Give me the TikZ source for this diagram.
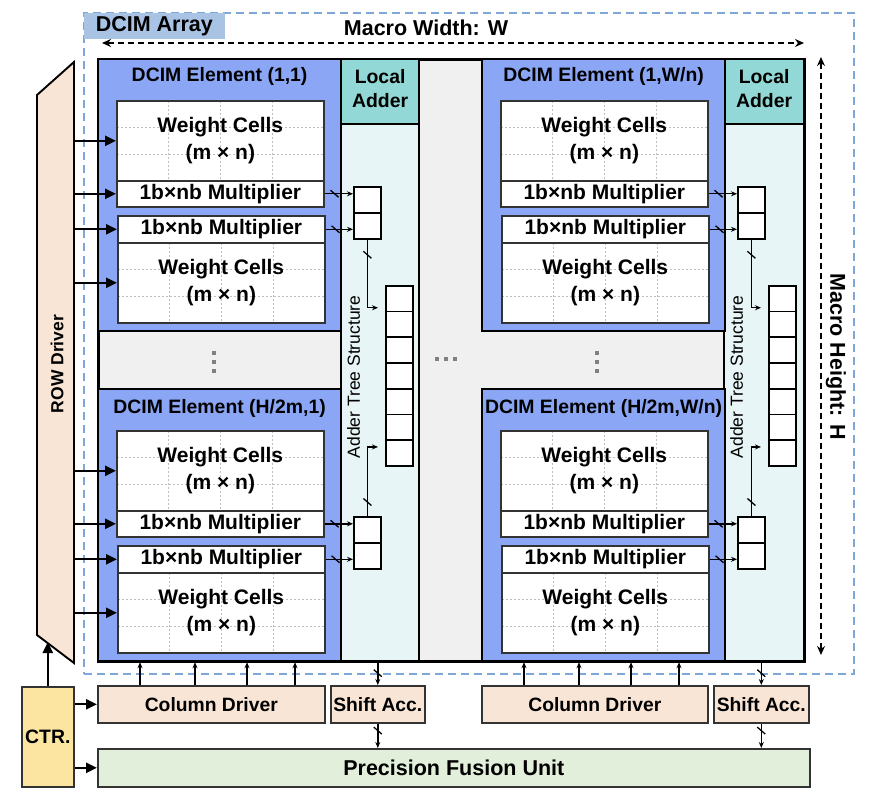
\documentclass[tikz,border=0pt]{standalone}
\usepackage{fontspec}
\setmainfont{Liberation Sans}
\usetikzlibrary{arrows.meta,calc,decorations.markings}

\definecolor{elemblue}{RGB}{138,166,245}
\definecolor{addhead}{RGB}{146,216,214}
\definecolor{addbody}{RGB}{232,245,246}
\definecolor{gapgray}{RGB}{240,240,240}
\definecolor{drvpeach}{RGB}{248,229,214}
\definecolor{pfugreen}{RGB}{226,239,218}
\definecolor{ctryellow}{RGB}{252,228,161}
\definecolor{arrblue}{RGB}{127,167,217}
\definecolor{arrlabel}{RGB}{169,195,228}

\tikzset{
  blk/.style={draw=black!80, line width=1.6pt, inner sep=0pt, anchor=north west},
  title/.style={font=\bfseries\fontsize{19.4}{24}\selectfont},
  big/.style={font=\bfseries\fontsize{21.5}{24}\selectfont},
  elem/.style={blk, draw=black, line width=2.2pt, fill=elemblue, minimum width=243, minimum height=272},
  gridline/.style={gray!50, line width=0.7pt, dash pattern=on 2.5pt off 1.5pt},
  wcell/.style={blk, fill=white, minimum width=207, minimum height=80, align=center,
    font=\bfseries\fontsize{21}{27}\selectfont,
    path picture={
      \foreach \k in {1,2,3}
        \draw[gridline] ($(path picture bounding box.north west)!\k/4!(path picture bounding box.north east)$)
          -- ($(path picture bounding box.south west)!\k/4!(path picture bounding box.south east)$);
      \foreach \k in {1,2}
        \draw[gridline] ($(path picture bounding box.north west)!\k/3!(path picture bounding box.south west)$)
          -- ($(path picture bounding box.north east)!\k/3!(path picture bounding box.south east)$);
    }},
  mult/.style={blk, fill=white, minimum width=207, minimum height=26, font=\bfseries\fontsize{21}{24}\selectfont},
  reg/.style={draw=black, line width=1.8pt, fill=white, inner sep=0pt, anchor=north west, minimum width=27, minimum height=26},
  adder/.style={blk, draw=black, line width=2.2pt},
  lbox/.style={blk, fill=drvpeach, minimum height=37, font=\bfseries\fontsize{19.3}{22}\selectfont},
  bigarrow/.style={line width=2.2pt, -{Triangle[length=11pt,width=10pt]}},
  smallarrow/.style={line width=1.4pt, -{Stealth[length=6pt,width=5pt]}},
  dimarrow/.style={line width=1.9pt, dash pattern=on 6pt off 4pt,
    {Stealth[length=9pt,width=8pt]}-{Stealth[length=9pt,width=8pt]}},
  bus/.style={postaction={decorate}, decoration={markings, mark=at position #1 with
    {\pgftransformresetnontranslations \draw[-, solid, line width=1.3pt] (-4pt,3.5pt) -- (4pt,-3.5pt);}}},
}

\begin{document}
\begin{tikzpicture}[x=1pt, y=-1pt]
\useasboundingbox (0,0) rectangle (870,802);

% DCIM array frame
\node[blk, draw=arrblue, line width=2pt, dash pattern=on 8pt off 5pt,
  minimum width=770, minimum height=661] (arr) at (83,12) {};
\node[blk, draw=none, fill=arrlabel, minimum width=141, minimum height=26, big] (arrlab) at (arr.north west) {DCIM Array};

% Macro size
\coordinate (mw-l) at (102,43);
\coordinate (mw-r) at (804,43);
\draw[dimarrow] (mw-l) -- (mw-r);
\node[big] (mwlab) at (426,28) {Macro Width: W};
\coordinate (mh-t) at (821,57);
\coordinate (mh-b) at (821,655);
\draw[dimarrow] (mh-t) -- (mh-b);
\node[big, rotate=-90] (mhlab) at (836,357) {Macro Height: H};

% Background of the macro
\node[blk, draw=black, line width=2.6pt, fill=gapgray, minimum width=706, minimum height=602] (bg) at (97,58) {};

% Local adders
\foreach \lx/\lw [count=\j] in {340/78, 723/80} {
  \node[adder, fill=addbody, minimum width=\lw, minimum height=602] (lb\j) at (\lx,58) {};
  \node[adder, fill=addhead, minimum width=\lw, minimum height=65] (lh\j) at (\lx,58) {};
  \node[align=center, title] (lt\j) at ([yshift=3]lh\j.center) {Local\\Adder};
  \node[rotate=90, font=\fontsize{17.5}{20}\selectfont] (at\j) at (\lx+13.5,377) {Adder Tree Structure};
  \foreach \k in {1,...,7}
    \node[reg, minimum height=25.7] (c\j-\k) at (\lx+45,{285+(\k-1)*25.7}) {};
  \coordinate (ta\j) at ($(c\j-1.west)+(-7,9)$);
  \coordinate (tb\j) at ($(c\j-7.west)+(-7,-6)$);
}

% DCIM elements
\foreach \ex/\ey [count=\i] in {97/58, 481/58, 97/388, 481/388} {
  \node[elem] (e\i) at (\ex,\ey) {};
  \node[wcell] (wa\i) at (\ex+19,\ey+42) {Weight Cells\\(m × n)};
  \node[mult] (ma\i) at (\ex+19,\ey+122) {1b×nb Multiplier};
  \node[mult, minimum height=27] (mb\i) at (\ex+20,\ey+157) {1b×nb Multiplier};
  \node[wcell] (wb\i) at (\ex+20,\ey+184) {Weight Cells\\(m × n)};
  \node[reg] (sa\i) at (\ex+256,\ey+128) {};
  \node[reg] (sb\i) at (\ex+256,\ey+154) {};
  \draw[smallarrow, bus=10pt] (ma\i.east) -- (ma\i.east -| sa\i.west);
  \draw[smallarrow, bus=10pt] (mb\i.east) -- (mb\i.east -| sb\i.west);
}
\node[title] (t1) at ([yshift=-18]e1.north) {DCIM Element (1,1)};
\node[title] (t2) at ([yshift=-18]e2.north) {DCIM Element (1,W/n)};
\node[title] (t3) at ([yshift=-20]e3.north) {DCIM Element (H/2m,1)};
\node[title] (t4) at ([yshift=-20]e4.north) {DCIM Element (H/2m,W/n)};

% Adder tree inputs
\draw[smallarrow, bus=15pt] (sb1.south) |- (ta1);
\draw[smallarrow, bus=15pt] (sb2.south) |- (ta2);
\draw[smallarrow, bus=14pt] (sa3.north) |- (tb1);
\draw[smallarrow, bus=14pt] (sa4.north) |- (tb2);

% Dots
\foreach \yy in {353,362,371} {
  \fill[gray] (212,\yy-2) rectangle (216,\yy+2);
  \fill[gray] (595,\yy-2) rectangle (599,\yy+2);
}
\foreach \xx in {437,446,455}
  \fill[gray] (\xx-2,357) rectangle (\xx+2,361);

% Row driver
\draw[line width=1.9pt, fill=drvpeach] (37,95) -- (74,62) -- (74,663) -- (37,635) -- cycle;
\node[rotate=90, font=\bfseries\fontsize{17.5}{20}\selectfont] (rdlab) at (57,364) {ROW Driver};
\coordinate (rdR) at (74,0);
\foreach \i in {1,3}
  \foreach \b in {wa,ma,mb,wb}
    \draw[bigarrow] (\b\i.west -| rdR) -- (\b\i.west);

% Periphery
\node[lbox, minimum width=227] (cd1) at (97,685) {Column Driver};
\node[lbox, minimum width=94] (sh1) at (330,685) {Shift Acc.};
\node[lbox, minimum width=226] (cd2) at (481,685) {Column Driver};
\node[lbox, minimum width=95] (sh2) at (713,685) {Shift Acc.};
\node[blk, fill=pfugreen, minimum width=712, minimum height=38, big] (pfu) at (97,748) {Precision Fusion Unit};
\node[blk, fill=ctryellow, minimum width=52, minimum height=100, title] (ctr) at (21,686) {CTR.};

\foreach \dx in {43,98,150,198} {
  \draw[smallarrow] ([xshift=\dx]cd1.north west) -- ([xshift=\dx]e3.south west);
  \draw[smallarrow] ([xshift=\dx]cd2.north west) -- ([xshift=\dx]e4.south west);
}
\foreach \j in {1,2} {
  \draw[smallarrow, bus=11pt] (sh\j.north |- lb\j.south) -- (sh\j.north);
  \draw[smallarrow, bus=7pt] (sh\j.south) -- (sh\j.south |- pfu.north);
}

% Control
\draw[bigarrow] (ctr.north) -- ++(0,-44);
\draw[bigarrow] (ctr.east |- cd1.west) -- (cd1.west);
\draw[bigarrow] (ctr.east |- pfu.west) -- (pfu.west);

\end{tikzpicture}
\end{document}
